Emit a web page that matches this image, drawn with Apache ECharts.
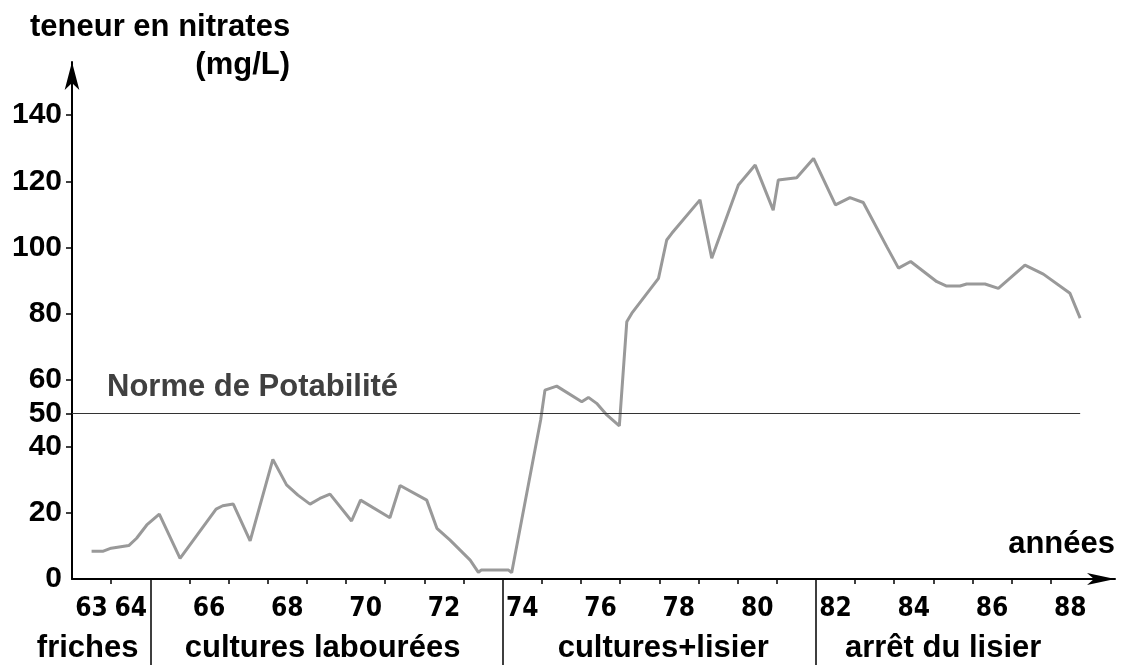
<!DOCTYPE html>
<html>
<head>
<meta charset="utf-8">
<script src="https://cdn.jsdelivr.net/npm/echarts@6/dist/echarts.min.js"></script>
<style>
html,body{margin:0;padding:0;background:#fff;}
#c{width:1121px;height:665px;}
</style>
</head>
<body>
<div id="c"></div>
<script>
// ---- data ----
const years = [63.50,63.80,64.00,64.45,64.65,64.91,65.23,65.76,66.68,66.85,67.12,67.55,68.13,68.48,68.77,69.08,69.33,69.59,70.14,70.37,71.12,71.38,72.06,72.32,72.65,73.17,73.38,73.45,74.15,74.23,74.97,75.08,75.38,76.02,76.19,76.40,76.66,76.98,77.17,77.30,77.98,78.19,78.32,79.04,79.34,80.02,80.45,80.91,81.04,81.51,81.94,82.50,82.87,83.21,83.81,84.11,84.42,85.09,85.34,85.68,85.85,86.32,86.66,87.34,87.81,88.49,88.75];
const nitrates = [8.4,8.4,9.3,10.1,12.3,16.3,19.6,6.2,21.1,22.1,22.6,11.5,36.1,28.4,25.3,22.6,24.3,25.6,17.5,23.8,18.5,28.2,23.8,15.3,11.8,5.7,2.0,2.7,2.7,1.9,48.0,57.0,58.2,53.5,54.8,53.0,49.5,46.2,77.6,80.2,90.7,102.3,104.3,114.4,96.8,118.9,124.9,111.3,120.4,121.1,126.9,112.9,115.1,113.6,100.3,93.8,95.8,89.7,88.4,88.4,89.0,89.0,87.7,94.7,92.0,86.2,78.7];
const yTickValues = [0,20,40,50,60,80,100,120,140];
const labeledYears = [63,64,66,68,70,72,74,76,78,80,82,84,86,88];
const periodNames = ['friches','cultures labourées','cultures+lisier','arrêt du lisier'];
const periodCenters = [63.4,69.4,78.1,85.25];
const periodBounds = [65,74,82];
const firstYear = 63, lastYear = 88;
const normValue = 50, normEnd = 88.75;
const yTitle = 'teneur en nitrates', yUnit = '(mg/L)', xTitle = 'années', normText = 'Norme de Potabilité';

// ---- derived ----
const seriesData = years.map((y,i)=>[y, nitrates[i]]);
const tickYears = [];
for (let y = firstYear + 1; y <= lastYear; y++) if (periodBounds.indexOf(y) < 0) tickYears.push(y);
const yearLabelPos = labeledYears.map(y => y + 0.5);

const FONT = "'Liberation Sans', Arial, sans-serif";
const NARROW = "'Liberation Sans Narrow', 'DejaVu Sans Condensed', 'Liberation Sans', sans-serif";

const chart = echarts.init(document.getElementById('c'), null, {renderer:'canvas'});
chart.setOption({
  backgroundColor:'#fff',
  animation:false,
  title:[
    {text:yTitle, left:30, top:12, padding:0, textStyle:{fontSize:31, fontWeight:'bold', color:'#000', fontFamily:FONT}},
    {text:yUnit, right:831, top:50, padding:0, textStyle:{fontSize:31, fontWeight:'bold', color:'#000', fontFamily:FONT}},
    {text:xTitle, right:6, top:529, padding:0, textStyle:{fontSize:31, fontWeight:'bold', color:'#000', fontFamily:FONT}},
    {text:normText, left:107, top:372, padding:0, textStyle:{fontSize:31, fontWeight:'bold', color:'#404040', fontFamily:FONT}}
  ],
  grid:{left:72, right:6, top:62, bottom:86, containLabel:false},
  xAxis:[
    {
      type:'value', position:'bottom', min:firstYear, max:89.64,
      axisLine:{show:true, symbol:['none','arrow'], symbolSize:[9,28], lineStyle:{color:'#000', width:2}},
      axisTick:{show:true, customValues:tickYears, length:5, lineStyle:{color:'#000', width:1.5}},
      axisLabel:{show:true, customValues:yearLabelPos, margin:17, formatter:v=>String(Math.floor(v)),
        fontSize:26, fontWeight:'bold', color:'#000', fontFamily:NARROW},
      splitLine:{show:false}
    },
    {
      type:'value', position:'bottom', offset:0, min:firstYear, max:89.64,
      axisLine:{show:false},
      axisTick:{show:true, customValues:periodBounds, length:86, lineStyle:{color:'#000', width:1.5}},
      axisLabel:{show:true, customValues:periodCenters, margin:54,
        formatter:v=>{const i = periodCenters.indexOf(v); return i>=0 ? periodNames[i] : '';},
        fontSize:31, fontWeight:'bold', color:'#000', fontFamily:FONT},
      splitLine:{show:false}
    }
  ],
  yAxis:{
    type:'value', min:0, max:156,
    axisLine:{show:true, symbol:['none','arrow'], symbolSize:[11,28], lineStyle:{color:'#000', width:2}},
    axisTick:{show:true, customValues:yTickValues.filter(v=>v>0), length:6, lineStyle:{color:'#000', width:1.5}},
    axisLabel:{show:true, customValues:yTickValues, margin:10, fontSize:30, fontWeight:'bold', fontFamily:FONT,
      color:(v)=> v===normValue ? '#444' : '#000'},
    splitLine:{show:false}
  },
  series:[{
    type:'line', xAxisIndex:0, data:seriesData, showSymbol:false, symbol:'none', smooth:false,
    lineStyle:{color:'#999', width:3}, z:3,
    markLine:{silent:true, symbol:['none','none'], label:{show:false},
      lineStyle:{color:'#333', width:1.2, type:'solid'},
      data:[[{coord:[firstYear, normValue]},{coord:[normEnd, normValue]}]]}
  }]
});
</script>
</body>
</html>
